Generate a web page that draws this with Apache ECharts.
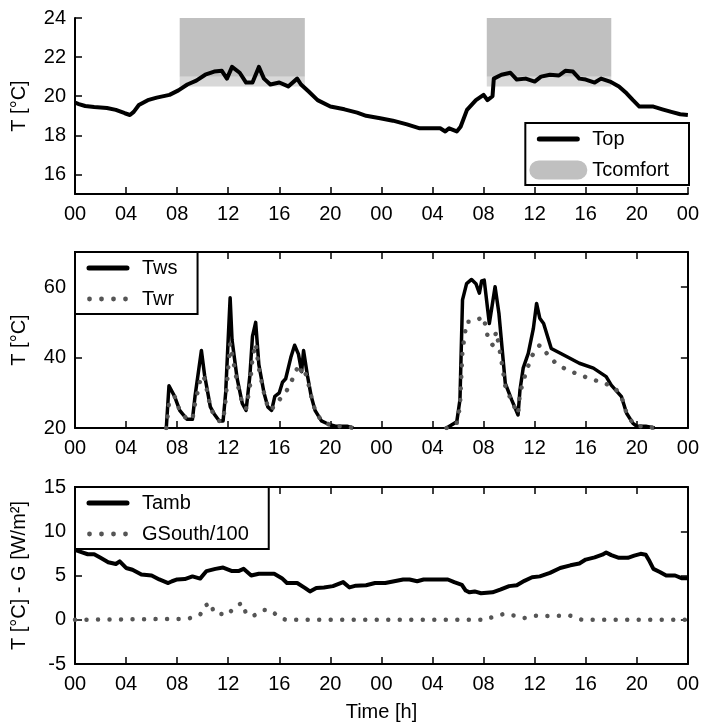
<!DOCTYPE html>
<html><head><meta charset="utf-8">
<script src="https://cdn.jsdelivr.net/npm/echarts@6/dist/echarts.min.js"></script>
<style>html,body{margin:0;padding:0;background:#fff}#c{width:702px;height:727px}</style>
</head><body><div id="c"></div>
<script>
// ---------- data ----------
const topHours = [0,0.3,0.8,1.5,2.5,3.2,3.9,4.3,4.6,5,5.7,6.4,7.4,8.1,8.8,9.5,10.2,10.9,11.5,11.9,12.3,12.9,13.4,13.9,14.4,14.8,15.3,16,16.7,17.4,17.7,18.3,19,20,21.1,22.1,22.8,23.9,24.9,26,27,27.7,28.6,29,29.3,29.9,30.2,30.7,31.4,32,32.3,32.7,32.8,33.4,34.1,34.6,35.3,36,36.5,37.2,37.9,38.4,39,39.5,40,40.7,41.2,41.9,42.6,43.2,43.7,44.2,45.3,46,46.7,47.4,48];
const topTemps = [19.68,19.6,19.5,19.45,19.4,19.3,19.13,19.04,19.2,19.55,19.8,19.93,20.07,20.3,20.6,20.8,21.1,21.26,21.3,20.9,21.5,21.2,20.7,20.7,21.5,20.9,20.6,20.7,20.5,20.9,20.6,20.24,19.8,19.47,19.33,19.16,19.0,18.87,18.75,18.56,18.36,18.36,18.36,18.2,18.36,18.2,18.44,19.3,19.8,20.07,19.8,20.0,20.9,21.1,21.2,20.85,20.9,20.75,21.0,21.1,21.06,21.3,21.26,20.9,20.85,20.7,20.9,20.75,20.5,20.15,19.8,19.47,19.47,19.33,19.2,19.08,19.04];

const comfortWindows = [[8.2, 18], [32.25, 42]];
const comfortLower = 20.5;
const comfortMid = 21;
const comfortUpper = 24;

const twsHours = [7.15,7.36,7.8,8.2,8.76,9.2,9.4,9.9,10.15,10.6,10.9,11.3,11.6,11.8,12.15,12.3,12.7,13.1,13.4,13.7,13.9,14.15,14.4,14.8,15.1,15.4,15.65,16.0,16.25,16.5,16.9,17.2,17.5,17.75,17.9,18.2,18.5,18.8,19.3,19.9,20.4,21.3,21.8,
  25,
  29.1,29.9,30.15,30.35,30.67,31.06,31.4,31.67,31.85,32.05,32.45,32.9,33.2,33.7,34.2,34.7,34.85,35.1,35.5,35.9,36.15,36.4,36.7,37.3,38.5,39.5,40.6,41.6,42.0,42.8,43.2,43.7,44.0,44.7,45.4];
const twsTemps = [20,32,29,25,22.5,22.5,29,42,35,26,24,22,22,30,57,45,34,27,25,35,46,50,38,30,26,25,29,30,33,34,40,43.5,41,36,42,35,29,25,22,21,20.5,20.5,20,
  null,
  20,21.8,28,56.4,61,62.2,61,58.3,61.8,62,49.7,60.1,52.6,32.7,28,23.7,30.8,37,41.2,48.3,55.4,51.2,49.7,42.6,40.3,38.4,37,34.6,32.2,28.9,24.2,21.3,20.5,20.5,20];

const twrHours = [7.15,7.36,7.8,8.2,8.76,9.2,9.4,9.9,10.15,10.6,10.9,11.3,11.6,11.8,12.15,12.3,12.7,13.1,13.4,13.7,13.9,14.15,14.4,14.8,15.1,15.4,15.65,16.0,16.5,16.9,17.2,17.5,17.75,17.9,18.2,18.5,18.8,19.3,19.9,20.4,21.3,21.8,
  25,
  29.1,29.9,30.15,30.35,30.67,31.2,32.0,32.35,32.7,33.0,33.35,33.7,34.2,34.7,34.85,35.25,35.75,36.4,36.9,37.6,38.3,39.1,39.9,40.7,41.5,42.3,42.8,43.2,43.7,44.0,44.7,45.4];
const twrTemps = [20,27,29,25,22.5,22.5,27,35,34,26,23.5,22,22,28,44,44,33,27,25.5,32,40,44,37,30,26,25,27,28,30,33,35,38,36,37,34,29,25,22,21,20.5,20.5,20,
  null,
  20,21.5,26,42,50.2,50.2,51.6,45.5,43.6,47.4,40.3,32,27.5,24,30,35,40.3,43.6,41.4,38.6,37,35.7,34.6,33.6,32.7,31.3,28.9,24.2,21.3,20.5,20.5,20];

const tambHours = [0,0.5,1,1.5,2,2.6,3.2,3.5,4,4.5,5.2,6,6.6,7.3,7.6,8,8.6,9.2,9.8,10.3,11,11.6,12.3,12.8,13.2,13.8,14.4,15,15.6,16.2,16.6,17.4,18,18.4,18.9,19.5,20.2,21,21.5,22,22.8,23.5,24.3,25,25.7,26.2,26.8,27.3,28.4,29.2,29.7,30.3,30.6,30.9,31.3,31.8,32.7,33.3,34,34.6,35.2,35.8,36.4,37.2,38,38.8,39.5,40,40.7,41.3,41.6,42,42.6,43.3,43.8,44.3,44.7,45,45.3,45.8,46.3,47,47.5,48];
const tambValues = [7.9,7.65,7.4,7.4,7.0,6.5,6.3,6.6,5.85,5.65,5.1,5.0,4.55,4.15,4.35,4.55,4.6,4.9,4.65,5.5,5.75,5.9,5.5,5.5,5.75,5.0,5.2,5.2,5.2,4.7,4.15,4.15,3.6,3.2,3.6,3.65,3.8,4.25,3.65,3.85,3.9,4.15,4.15,4.35,4.55,4.55,4.35,4.55,4.55,4.55,4.25,3.95,3.3,3.1,3.2,3.0,3.1,3.4,3.8,3.9,4.4,4.8,4.9,5.3,5.85,6.15,6.35,6.8,7.05,7.35,7.6,7.3,7.0,7.0,7.25,7.45,7.35,6.6,5.75,5.4,5.0,5.0,4.7,4.7];

const gHours = [0,8.8,9.3,9.8,10.1,10.6,10.9,11.3,11.9,12.3,12.8,13.1,13.4,13.9,14.4,14.8,15.2,15.6,16.1,16.5,32.3,32.6,33.2,33.7,34.3,34.8,35.2,35.8,36.5,37.2,38,38.7,39.3,39.7,48];
const gValues = [0,0.1,0.3,0.55,1.5,1.95,0.75,0.7,0.5,1.1,1.7,1.9,0.7,0.4,0.75,1.1,1.15,0.75,0.2,0,0,0.25,0.5,0.7,0.5,0.4,0.2,0.4,0.5,0.4,0.45,0.5,0.2,0,0];

const topTicks = [16, 18, 20, 22, 24];
const twTicks = [20, 40, 60];

// ---------- styling ----------
const FONT = '"Liberation Sans", Arial, Helvetica, sans-serif';
const hourLabel = v => String(v % 24).padStart(2, '0');
const pairs = (xs, ys) => xs.map((x, i) => [x, ys[i]]);

const lineIcon = 'path://M0,0L0,0ZM58,20L58,20ZM10,7.5H48A2.5,2.5,0,0,1,48,12.5H10A2.5,2.5,0,0,1,10,7.5Z';
const pillIcon = 'path://M0,0L0,0ZM58,20L58,20ZM9.5,0.5H48.5A9.5,9.5,0,0,1,48.5,19.5H9.5A9.5,9.5,0,0,1,9.5,0.5Z';
function dotPath(cx, cy, r) { return 'M' + (cx - r) + ',' + cy + 'A' + r + ',' + r + ',0,1,0,' + (cx + r) + ',' + cy + 'A' + r + ',' + r + ',0,1,0,' + (cx - r) + ',' + cy + 'Z'; }
const dotsIcon = 'path://M0,0L0,0ZM58,20L58,20Z' + dotPath(10.5, 10, 2.4) + dotPath(22.5, 10, 2.4) + dotPath(34.5, 10, 2.4) + dotPath(46.5, 10, 2.4);

const axisLineStyle = { show: true, onZero: false, lineStyle: { color: '#000', width: 2 } };
const tickStyle = { show: true, inside: true, length: 7, lineStyle: { color: '#000', width: 1.5 } };
const labelStyle = { fontSize: 20, color: '#000', fontFamily: FONT };

function xBottom(gridIndex, extra) {
  return Object.assign({
    type: 'value', gridIndex, min: 0, max: 48, interval: 4, position: 'bottom',
    axisLine: axisLineStyle, axisTick: tickStyle,
    axisLabel: Object.assign({ formatter: hourLabel, margin: 10, showMinLabel: true, showMaxLabel: true }, labelStyle),
    splitLine: { show: false }
  }, extra || {});
}
function xTop(gridIndex) {
  return { type: 'value', gridIndex, min: 0, max: 48, interval: 4, position: 'top',
    axisLine: axisLineStyle, axisTick: tickStyle, axisLabel: { show: false }, splitLine: { show: false } };
}
function yLeft(gridIndex, min, max, ticks, name, extra) {
  const o = { type: 'value', gridIndex, min, max, position: 'left',
    axisLine: axisLineStyle,
    axisTick: Object.assign({}, tickStyle),
    axisLabel: Object.assign({ margin: 9 }, labelStyle),
    splitLine: { show: false },
    name, nameLocation: 'middle', nameGap: 46,
    nameTextStyle: { fontSize: 20, color: '#000', fontFamily: FONT } };
  if (ticks) { o.axisTick.customValues = ticks; o.axisLabel.customValues = ticks; }
  return Object.assign(o, extra || {});
}
function yRight(gridIndex, min, max, ticks, extra) {
  const o = { type: 'value', gridIndex, min, max, position: 'right',
    axisLine: axisLineStyle, axisTick: Object.assign({}, tickStyle), axisLabel: { show: false }, splitLine: { show: false } };
  if (ticks) { o.axisTick.customValues = ticks; }
  return Object.assign(o, extra || {});
}

const legendBase = {
  orient: 'vertical', itemWidth: 58, itemHeight: 20, itemGap: 11,
  padding: [6, 20, 5, 4], borderColor: '#000', borderWidth: 2, backgroundColor: '#fff',
  textStyle: { fontSize: 20, color: '#000', fontFamily: FONT, lineHeight: 20 },
  itemStyle: { borderWidth: 0 }, selectedMode: false, z: 10
};

const comfortAreas = [];
comfortWindows.forEach(w => {
  comfortAreas.push([{ xAxis: w[0], yAxis: comfortLower, itemStyle: { color: '#d8d8d8' } }, { xAxis: w[1], yAxis: comfortMid }]);
  comfortAreas.push([{ xAxis: w[0], yAxis: comfortMid, itemStyle: { color: '#c0c0c0' } }, { xAxis: w[1], yAxis: comfortUpper }]);
});

const option = {
  animation: false,
  backgroundColor: '#fff',
  grid: [
    { left: 75, right: 14, top: 18, height: 176 },
    { left: 75, right: 14, top: 252, height: 176 },
    { left: 75, right: 14, top: 487, height: 177 }
  ],
  xAxis: [
    xBottom(0),
    xBottom(1), xTop(1),
    xBottom(2, { name: 'Time [h]', nameLocation: 'middle', nameGap: 38, nameTextStyle: { fontSize: 20, color: '#000', fontFamily: FONT } }), xTop(2)
  ],
  yAxis: [
    yLeft(0, 15, 24, topTicks, 'T [°C]'),
    yLeft(1, 20, 70, twTicks, 'T [°C]'),
    yRight(1, 20, 70, twTicks),
    yLeft(2, -5, 15, null, 'T [°C] - G [W/m²]', { interval: 5 }),
    yRight(2, -5, 15, null, { interval: 5 })
  ],
  legend: [
    Object.assign({}, legendBase, { right: 13, top: 123, data: [{ name: 'Top', icon: lineIcon }, { name: 'Tcomfort', icon: pillIcon }] }),
    Object.assign({}, legendBase, { left: 75, top: 252, data: [{ name: 'Tws', icon: lineIcon }, { name: 'Twr', icon: dotsIcon }] }),
    Object.assign({}, legendBase, { left: 75, top: 487, data: [{ name: 'Tamb', icon: lineIcon }, { name: 'GSouth/100', icon: dotsIcon }] })
  ],
  series: [
    { name: 'Tcomfort', type: 'line', xAxisIndex: 0, yAxisIndex: 0, data: [], color: '#c0c0c0', itemStyle: { color: '#c0c0c0' },
      markArea: { silent: true, data: comfortAreas }, z: 1 },
    { name: 'Top', type: 'line', xAxisIndex: 0, yAxisIndex: 0, data: pairs(topHours, topTemps), symbol: 'none', color: '#000',
      lineStyle: { color: '#000', width: 4, join: 'round' }, z: 3 },
    { name: 'Tws', type: 'line', xAxisIndex: 1, yAxisIndex: 1, data: pairs(twsHours, twsTemps), symbol: 'none', color: '#000',
      lineStyle: { color: '#000', width: 3.5, join: 'round' }, z: 3 },
    { name: 'Twr', type: 'line', xAxisIndex: 1, yAxisIndex: 1, data: pairs(twrHours, twrTemps), symbol: 'none', color: '#555',
      lineStyle: { color: '#555', width: 4.5, type: [0.01, 11.5], cap: 'round' }, z: 4 },
    { name: 'Tamb', type: 'line', xAxisIndex: 3, yAxisIndex: 3, data: pairs(tambHours, tambValues), symbol: 'none', color: '#000',
      lineStyle: { color: '#000', width: 4, join: 'round' }, z: 3 },
    { name: 'GSouth/100', type: 'line', xAxisIndex: 3, yAxisIndex: 3, data: pairs(gHours, gValues), symbol: 'none', color: '#555',
      lineStyle: { color: '#555', width: 4.5, type: [0.01, 11.5], cap: 'round' }, z: 4 }
  ]
};

const chart = echarts.init(document.getElementById('c'), null, { renderer: 'canvas' });
chart.setOption(option);
</script>
</body></html>
